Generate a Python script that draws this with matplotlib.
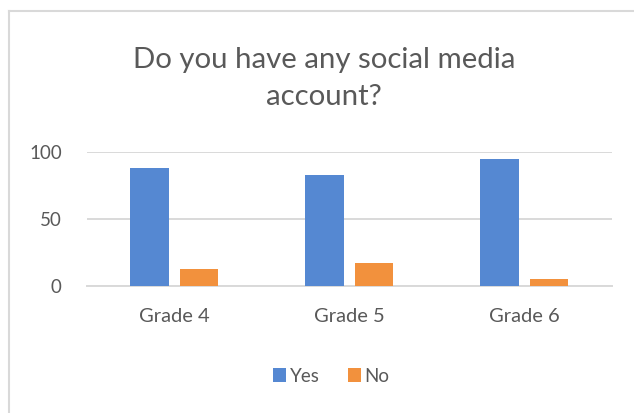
import numpy as np
import matplotlib
matplotlib.use("Agg")
import matplotlib.pyplot as plt
from matplotlib.lines import Line2D

# survey answers per grade (percent)
grades = ["Grade 4", "Grade 5", "Grade 6"]
yes = [88, 83, 95]
no = [12, 17, 5]
yticks = [0, 50, 100]

blue = "#5588D2"
orange = "#F2913D"
grey = "#595959"

plt.rcParams["font.family"] = ["Lato", "DejaVu Sans"]

fig = plt.figure(figsize=(6.34, 4.13), dpi=100)
ax = fig.add_axes([0.137, 0.3087, 0.828, 0.3233])

x = np.arange(len(grades))
w = 0.22
b1 = ax.bar(x - 0.142, yes, w, color=blue, label="Yes", zorder=3)
b2 = ax.bar(x + 0.142, no, w, color=orange, label="No", zorder=3)

ax.set_xlim(-0.5, len(grades) - 0.5)
ax.set_ylim(0, 100)
ax.set_yticks(yticks)
ax.set_xticks(x)
ax.set_xticklabels(grades)
ax.tick_params(axis="y", length=0, pad=18, labelsize=13.5, labelcolor=grey)
ax.tick_params(axis="x", length=0, pad=16, labelsize=14.5, labelcolor=grey)
ax.grid(axis="y", color="#D9D9D9", linewidth=1.4, zorder=0)
for s in ["top", "right", "left"]:
    ax.spines[s].set_visible(False)
ax.spines["bottom"].set_color("#D9D9D9")
ax.spines["bottom"].set_linewidth(1.4)

fig.text(0.511, 1 - 60 / 413, "Do you have any social media", ha="center", va="center",
         fontsize=21.2, color=grey)
fig.text(0.511, 1 - 97 / 413, "account?", ha="center", va="center",
         fontsize=21.2, color=grey)

fig.legend(handles=[b1, b2], labels=["Yes", "No"], loc="center",
           bbox_to_anchor=(331 / 634, 1 - 376 / 413), ncol=2, frameon=False,
           handlelength=0.7, handleheight=0.7, handletextpad=0.2,
           columnspacing=1.5, fontsize=13.5, labelcolor=grey)

# chart border (top and left edges)
fig.add_artist(Line2D([8.5 / 634, 8.5 / 634], [0, 1 - 10.5 / 413],
                      transform=fig.transFigure, color="#D9D9D9", linewidth=1.5))
fig.add_artist(Line2D([8.5 / 634, 1], [1 - 10.5 / 413, 1 - 10.5 / 413],
                      transform=fig.transFigure, color="#D9D9D9", linewidth=1.5))

fig.savefig("out.png", dpi=100)
